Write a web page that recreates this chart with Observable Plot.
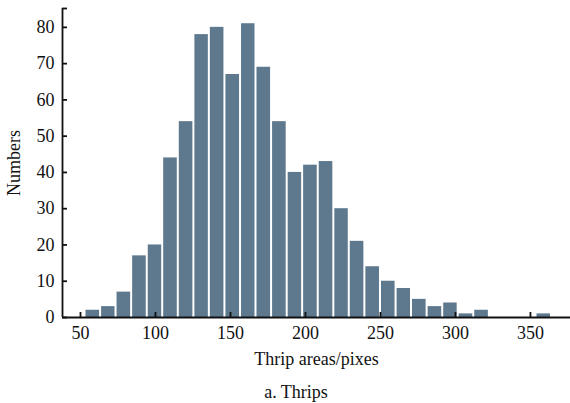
<!DOCTYPE html>
<html>
<head>
<meta charset="utf-8">
<script src="https://cdn.jsdelivr.net/npm/d3@7"></script>
<script src="https://cdn.jsdelivr.net/npm/@observablehq/plot@0.6"></script>
<style>
  body { margin: 0; background: #fff; }
  #chart { width: 570px; }
  .caption { width: 570px; box-sizing: border-box; padding-left: 22px; padding-top: 3px; text-align: center;
    font-family: "Liberation Serif", "Times New Roman", serif; font-size: 18px; line-height: 28px; color: #111; }
</style>
</head>
<body>
<div id="chart"></div>
<div class="caption">a. Thrips</div>
<script>
// Histogram counts per bin (30 bins)
const counts = [2, 3, 7, 17, 20, 44, 54, 78, 80, 67, 81, 69, 54, 40, 42, 43, 30, 21, 14, 10, 8, 5, 3, 4, 1, 2, 0, 0, 0, 1];
// Bin edges (thrip area, pixels)
const binEdges = [53, 63.4, 73.7, 84.1, 94.5, 104.8, 115.2, 125.6, 135.9, 146.3, 156.7, 167, 177.4, 187.8, 198.1, 208.5,
  218.9, 229.2, 239.6, 250, 260.4, 270.7, 281.1, 291.5, 301.8, 312.2, 322.6, 332.9, 343.3, 353.7, 364];
const xTicks = [50, 100, 150, 200, 250, 300, 350];
const yTicks = [0, 10, 20, 30, 40, 50, 60, 70, 80];
const xDomain = [38, 376.7];
const yDomain = [0, 85.2];

const bins = counts.map((c, i) => ({x1: binEdges[i], x2: binEdges[i + 1], n: c}));

const plot = Plot.plot({
  width: 570,
  height: 375,
  marginLeft: 62,
  marginRight: 0,
  marginTop: 8,
  marginBottom: 58,
  style: {fontFamily: "'Liberation Serif', 'Times New Roman', serif", fontSize: "18px", color: "#111", background: "#fff"},
  x: {domain: xDomain},
  y: {domain: yDomain},
  marks: [
    Plot.rectY(bins, {x1: "x1", x2: "x2", y: "n", fill: "#5e798e", insetLeft: 1, insetRight: 1}),
    Plot.ruleY([yDomain[0]], {stroke: "#111", strokeWidth: 1.8}),
    Plot.ruleX([xDomain[0]], {stroke: "#111", strokeWidth: 1.8}),
    Plot.axisX({ticks: xTicks, tickSize: -5, tickPadding: 14, strokeWidth: 1.8, stroke: "#111",
      label: "Thrip areas/pixes", labelAnchor: "center", labelArrow: "none", labelOffset: 47}),
    Plot.axisY({ticks: [...yTicks, yDomain[1]], tickFormat: d => d > yTicks[yTicks.length - 1] ? "" : d,
      tickSize: -5, tickPadding: 13, strokeWidth: 1.8, stroke: "#111",
      label: "Numbers", labelAnchor: "center", labelArrow: "none", labelOffset: 55})
  ]
});
document.getElementById("chart").appendChild(plot);
</script>
</body>
</html>
